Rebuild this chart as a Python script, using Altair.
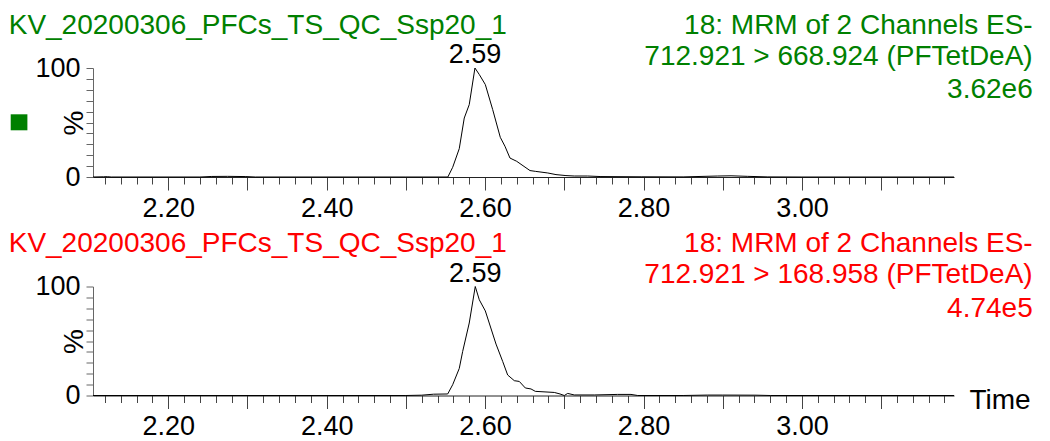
import altair as alt
import pandas as pd

FONT = "Liberation Sans"
GREEN = "#008000"
RED = "#ff0000"

# Header text for both channels
sample_name = "KV_20200306_PFCs_TS_QC_Ssp20_1"
function_line = "18: MRM of 2 Channels ES-"
top_transition = "712.921 > 668.924 (PFTetDeA)"
bottom_transition = "712.921 > 168.958 (PFTetDeA)"
top_intensity = "3.62e6"
bottom_intensity = "4.74e5"

# Channel 1 trace: retention time (min) vs relative intensity (%)
top_time = [2.105, 2.118, 2.123, 2.128, 2.24, 2.255, 2.275, 2.298, 2.31, 2.50,
            2.553, 2.5591, 2.5674, 2.5737, 2.580, 2.5872, 2.5927, 2.6003, 2.6096,
            2.6192, 2.6251, 2.6314, 2.6399, 2.6567, 2.6634, 2.679, 2.6895, 2.7021,
            2.7126, 2.7295, 2.7463, 2.797, 2.85, 2.8937, 2.9105, 2.9316, 2.957,
            3.0, 3.192]
top_pct = [0, 0.2, 0.3, 0, 0, 0.5, 0.6, 0.4, 0, 0,
           0, 8.9, 26.0, 54.1, 66.4, 100, 94, 84.8, 61.8,
           36.4, 28.2, 17.4, 14.4, 5.9, 5.2, 3.7, 2.2, 1.3,
           0.9, 0.9, 0.4, 0.2, 0.1, 0.9, 1.1, 0.6, 0.1,
           0, 0]

# Channel 2 trace
bottom_time = [2.105, 2.50, 2.52, 2.535, 2.5528, 2.5591, 2.5674, 2.5717, 2.580,
               2.5876, 2.5927, 2.6003, 2.6138, 2.6222, 2.6285, 2.6369, 2.6432,
               2.6508, 2.658, 2.6634, 2.6874, 2.6946, 2.70, 2.7043, 2.7126, 2.7379,
               2.7674, 2.7842, 2.7927, 2.85, 2.881, 2.90, 2.942, 2.96, 3.192]
bottom_pct = [0, 0, 0.3, 1.2, 1.4, 9.9, 24.8, 40.4, 66.5,
              100, 87.8, 77.6, 47.2, 31.3, 18.8, 13.6, 12.9,
              6.9, 6.0, 3.8, 2.8, 1.4, 0, 1.9, 0.5, 0.5,
              1.0, 1.0, 0, 0, 0.4, 0.4, 0.3, 0, 0]

X_DOMAIN = [2.105, 3.192]
x_ticks = [round(2.12 + 0.02 * i, 2) for i in range(54)]
y_ticks = list(range(0, 101, 10))

PLOT_W = 861
PLOT_H = 109
HEAD_SIZE = 28
LABEL_SIZE = 27


def header(text, color, x, y, align):
    return alt.Chart(pd.DataFrame({"label": [text]})).mark_text(
        font=FONT, fontSize=HEAD_SIZE, color=color, align=align, baseline="alphabetic"
    ).encode(text="label:N", x=alt.value(x), y=alt.value(y))


def panel(times, pcts, color, transition, intensity, show_marker, show_time):
    trace = pd.DataFrame({"time": times, "pct": pcts})

    x_axis_args = dict(
        values=x_ticks,
        tickCount=200,
        labelExpr="round(datum.value * 100) % 20 == 0 ? format(datum.value, '.2f') : ''",
        tickSize={"condition": {"test": "round(datum.value * 100) % 10 == 0", "value": 13}, "value": 7},
        tickColor="#444",
        tickWidth=1,
        domainColor="#222",
        domainWidth=1,
        labelFont=FONT,
        labelFontSize=LABEL_SIZE,
        labelColor="black",
        labelPadding=5,
        labelOverlap=False,
        labelFlush=False,
        grid=False,
    )
    if show_time:
        x_axis_args.update(
            title="Time", titleFont=FONT, titleFontSize=HEAD_SIZE, titleFontWeight="normal",
            titleColor="black", titleAlign="left", titleBaseline="alphabetic",
            titleAngle=0, titleX=876, titleY=12.7,
        )
    else:
        x_axis_args.update(title="")

    y_axis = alt.Axis(
        values=y_ticks,
        tickCount=50,
        labelExpr="datum.value == 0 || datum.value == 100 ? datum.label : ''",
        tickSize=7,
        tickColor="#666",
        domainColor="#666",
        labelFont=FONT,
        labelFontSize=LABEL_SIZE,
        labelColor="black",
        labelPadding=6,
        labelOverlap=False,
        labelFlush=False,
        grid=False,
        title="%",
        titleFont=FONT,
        titleFontSize=HEAD_SIZE,
        titleFontWeight="normal",
        titleColor="black",
        titleAngle=-90,
        titleAlign="center",
        titleBaseline="alphabetic",
        titleX=-11,
        titleY=54.5,
    )

    line = alt.Chart(trace).mark_line(color="black", strokeWidth=1).encode(
        x=alt.X("time:Q", scale=alt.Scale(domain=X_DOMAIN, nice=False, zero=False),
                axis=alt.Axis(**x_axis_args)),
        y=alt.Y("pct:Q", scale=alt.Scale(domain=[0, 100], nice=False), axis=y_axis),
    )

    # apex retention time label
    apex_i = pcts.index(max(pcts))
    apex = pd.DataFrame({"time": [times[apex_i]], "pct": [pcts[apex_i]],
                         "label": [f"{times[apex_i]:.2f}"]})
    apex_label = alt.Chart(apex).mark_text(
        font=FONT, fontSize=LABEL_SIZE, color="black", align="center",
        baseline="alphabetic", dy=-5,
    ).encode(x="time:Q", y="pct:Q", text="label:N")

    layers = [
        line,
        apex_label,
        header(sample_name, color, -84.3, -34.3, "left"),
        header(function_line, color, 939.7, -34.3, "right"),
        header(transition, color, 939.7, -3.5, "right"),
        header(intensity, color, 939.7, 30.0, "right"),
    ]
    if show_marker:
        layers.append(
            alt.Chart(pd.DataFrame({"channel": [1]})).mark_rect(color=color).encode(
                x=alt.value(-82.3), x2=alt.value(-65.6), y=alt.value(46.3), y2=alt.value(62.3)
            )
        )
    return alt.layer(*layers).properties(width=PLOT_W, height=PLOT_H)


top = panel(top_time, top_pct, GREEN, top_transition, top_intensity, True, False)
bottom = panel(bottom_time, bottom_pct, RED, bottom_transition, bottom_intensity, False, True)

chart = alt.vconcat(top, bottom, spacing=109.5).properties(
    bounds="flush",
    padding={"left": 8, "top": 11, "right": 5, "bottom": 5},
    background="white",
).configure_view(stroke=None)

chart.save("out.html", embed_options={"renderer": "svg", "actions": False})
